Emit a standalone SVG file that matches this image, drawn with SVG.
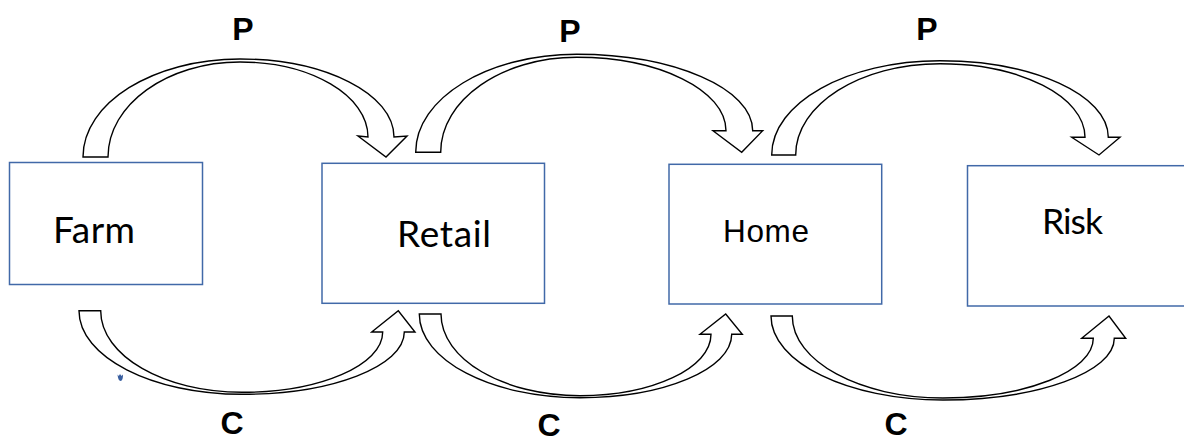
<svg xmlns="http://www.w3.org/2000/svg" width="1184" height="441" viewBox="0 0 1184 441">
<style>
.box{fill:#fff;stroke:#4169a8;stroke-width:1.5}
.arr{fill:#fff;stroke:#000;stroke-width:1.4;stroke-linejoin:miter}
.lbl{font-family:"Liberation Sans",Arial,sans-serif;font-weight:bold;font-size:32px;text-anchor:middle;fill:#000}
.nt{font-family:Lato,"Liberation Sans",sans-serif;font-size:37px;fill:#000}
.nh{font-family:"Liberation Sans",Arial,sans-serif;font-size:31.5px;fill:#000}
</style>
<rect width="1184" height="441" fill="#fff"/>
<g id="farm"><rect class="box" x="9.5" y="162.5" width="193" height="122"/><text class="nt" x="53" y="242.7" textLength="82">Farm</text></g>
<g id="retail"><rect class="box" x="322" y="163.3" width="222.5" height="140"/><text class="nt" x="397" y="247.3" textLength="94">Retail</text></g>
<g id="home"><rect class="box" x="669" y="164.3" width="212.7" height="139.7"/><text class="nh" x="723" y="241.7" textLength="86">Home</text></g>
<g id="risk"><rect class="box" x="967.5" y="165.7" width="230" height="140.3"/><text class="nt" x="1042" y="234.3" style="font-size:35.5px" textLength="61">Risk</text></g>
<g id="connectors">
<path class="arr" d="M83,157 C83,102.9 153.3,59 240,59 C325.1,59 394,93.9 394,137 L407,136 L386,157 L358,136 L368,137 C368,95.6 310.7,62 240,62 C167.1,62 108,104.5 108,157 Z"/>
<path class="arr" d="M415.7,152.3 C415.7,98.2 487.8,54.3 576.7,54.3 C673.9,54.3 752.7,88.5 752.7,130.7 L762.7,130.7 L741.7,152.3 L713,130.7 L726,130.7 C726,90.2 659.2,57.3 576.7,57.3 C501.6,57.3 440.7,99.8 440.7,152.3 Z"/>
<path class="arr" d="M771.7,155 C771.7,102.9 847,60.7 940,60.7 C1033,60.7 1108.3,95 1108.3,137.3 L1120,137.3 L1099,155 L1071.7,137.3 L1085,137.3 C1085,96.6 1020.1,63.7 940,63.7 C860.3,63.7 795.7,104.6 795.7,155 Z"/>
<path class="arr" d="M79,310.7 C79,356.9 152,394.3 242,394.3 C331.6,394.3 404.3,366.4 404.3,332 L415,332 L398.3,310.7 L371.7,332 L382.7,332 C382.7,365.3 319.7,392.3 242,392.3 C164,392.3 100.7,355.8 100.7,310.7 Z"/>
<path class="arr" d="M419.3,314 C419.3,360.2 491.2,397.7 580,397.7 C663.8,397.7 731.7,369.3 731.7,334.3 L742.3,334.3 L725.7,314 L700,334.3 L711,334.3 C711,368.2 652.4,395.7 580,395.7 C503.2,395.7 441,359.1 441,314 Z"/>
<path class="arr" d="M771,316 C771,362.4 848,400 943,400 C1037.6,400 1114.3,372.4 1114.3,338.3 L1125.7,338.3 L1109,316 L1081.7,338.3 L1093.3,338.3 C1093.3,371.3 1026,398 943,398 C859.8,398 792.3,361.3 792.3,316 Z"/>
</g>
<text class="lbl" x="243" y="40">P</text>
<text class="lbl" x="570" y="42">P</text>
<text class="lbl" x="927" y="40">P</text>
<text class="lbl" x="232" y="434">C</text>
<text class="lbl" x="549" y="436">C</text>
<text class="lbl" x="896" y="435">C</text>
<path d="M117.5,374.5 C118,379 119,381 120.5,381 C122.5,381 123,378 123,374.5 L121.5,376 L120,374 L118.8,376 Z" fill="#3a5fa0"/>
</svg>
